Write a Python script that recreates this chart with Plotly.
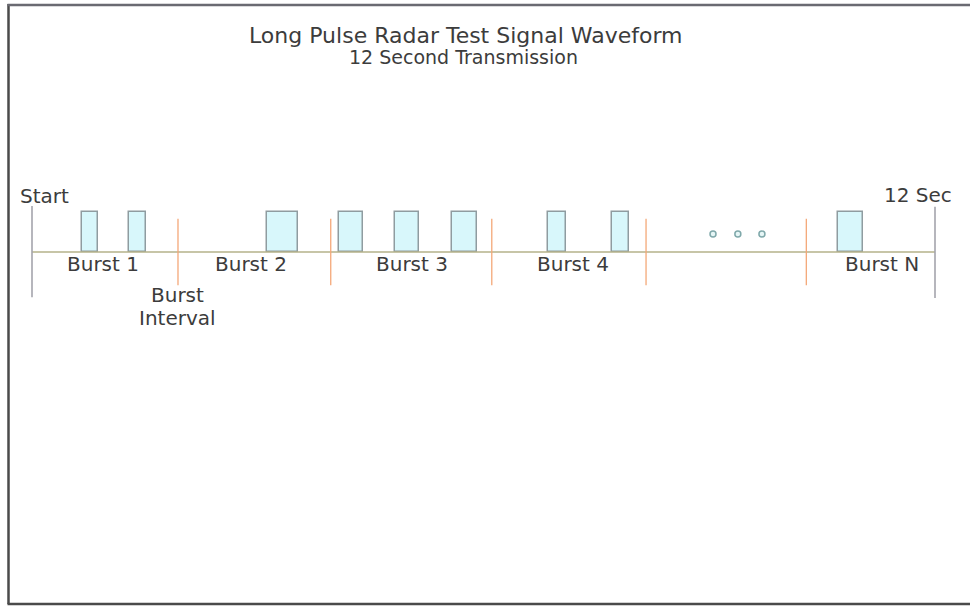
import plotly.graph_objects as go

# ---- data (time in seconds, amplitude in arbitrary units) ----
pulse_start = [0.66, 1.29, 3.12, 4.08, 4.82, 5.58, 6.86, 7.71, 10.71]
pulse_end = [0.88, 1.51, 3.53, 4.40, 5.14, 5.91, 7.10, 7.93, 11.04]
pulse_height = 1.0
separators = [1.94, 3.97, 6.11, 8.16, 10.29]
dots_x = [9.05, 9.38, 9.70]
dots_y = [0.45, 0.45, 0.45]
burst_labels = ["Burst 1", "Burst 2", "Burst 3", "Burst 4", "Burst N"]
burst_label_x = [0.94, 2.91, 5.05, 7.19, 11.30]
total_seconds = 12
title_text = "Long Pulse Radar Test Signal Waveform"
subtitle_text = "12 Second Transmission"

FONT = "DejaVu Sans"
TXT = "#3c3c3c"

fig = go.Figure()

# baseline
fig.add_trace(go.Scatter(x=[0, total_seconds], y=[0, 0], mode="lines",
                         line=dict(color="#b4b28a", width=1.3), hoverinfo="skip"))

# start / end markers
fig.add_trace(go.Scatter(x=[0, 0, None, total_seconds, total_seconds],
                         y=[1.15, -1.13, None, 1.13, -1.15], mode="lines",
                         line=dict(color="#a4a4ac", width=1.6), hoverinfo="skip"))

# burst separators
sx, sy = [], []
for s in separators:
    sx += [s, s, None]
    sy += [0.83, -0.83, None]
fig.add_trace(go.Scatter(x=sx, y=sy, mode="lines",
                         line=dict(color="#f4a878", width=1.3), hoverinfo="skip"))

# pulses
fig.add_trace(go.Bar(x=[(a + b) / 2 for a, b in zip(pulse_start, pulse_end)],
                     y=[pulse_height] * len(pulse_start),
                     width=[b - a for a, b in zip(pulse_start, pulse_end)],
                     marker=dict(color="#d8f7fb", line=dict(color="#8f9ca0", width=1.5)),
                     hoverinfo="skip"))

# continuation dots
fig.add_trace(go.Scatter(x=dots_x, y=dots_y, mode="markers",
                         marker=dict(symbol="circle", size=6, color="#e6f6f6",
                                     line=dict(color="#7fa8aa", width=1.5)),
                         hoverinfo="skip"))

LBL = 20
annotations = []
for lab, lx in zip(burst_labels, burst_label_x):
    annotations.append(dict(x=lx, y=-0.3, text=lab, showarrow=False, xanchor="center",
                            yanchor="middle", font=dict(family=FONT, size=LBL, color=TXT)))
annotations.append(dict(x=separators[0], y=-1.08, text="Burst", showarrow=False,
                        yanchor="middle", font=dict(family=FONT, size=LBL, color=TXT)))
annotations.append(dict(x=separators[0], y=-1.65, text="Interval", showarrow=False,
                        yanchor="middle", font=dict(family=FONT, size=LBL, color=TXT)))
annotations.append(dict(x=0.16, y=1.4, text="Start", showarrow=False, xanchor="center",
                        yanchor="middle", font=dict(family=FONT, size=LBL, color=TXT)))
annotations.append(dict(x=11.77, y=1.42, text="12 Sec", showarrow=False, xanchor="center",
                        yanchor="middle", font=dict(family=FONT, size=LBL, color=TXT)))
annotations.append(dict(x=466 / 970, y=1 - 36 / 607, xref="paper", yref="paper", text=title_text,
                        showarrow=False, xanchor="center", yanchor="middle",
                        font=dict(family=FONT, size=22, color=TXT)))
annotations.append(dict(x=463 / 970, y=1 - 57 / 607, xref="paper", yref="paper", text=subtitle_text,
                        showarrow=False, xanchor="center", yanchor="middle",
                        font=dict(family=FONT, size=19, color=TXT)))

# frame (left, top, bottom)
shapes = [
    dict(type="line", xref="paper", yref="paper", x0=8.5 / 970, x1=8.5 / 970,
         y0=1 - 4 / 607, y1=1 - 604 / 607, line=dict(color="#4a4a4a", width=2.5)),
    dict(type="line", xref="paper", yref="paper", x0=7.5 / 970, x1=1,
         y0=1 - 5 / 607, y1=1 - 5 / 607, line=dict(color="#6a6a72", width=2.5)),
    dict(type="line", xref="paper", yref="paper", x0=7.5 / 970, x1=1,
         y0=1 - 604 / 607, y1=1 - 604 / 607, line=dict(color="#4a4a4a", width=2.5)),
]

px_per_s = 903 / 12
px_per_unit = 40
fig.update_layout(
    width=970, height=607, margin=dict(l=0, r=0, t=0, b=0),
    paper_bgcolor="white", plot_bgcolor="white", showlegend=False,
    annotations=annotations, shapes=shapes, bargap=0,
    xaxis=dict(range=[-32 / px_per_s, (970 - 32) / px_per_s], visible=False, fixedrange=True),
    yaxis=dict(range=[-(607 - 252) / px_per_unit, 252 / px_per_unit], visible=False, fixedrange=True),
)

fig.write_html("out.html", config={"displayModeBar": False},
               post_script="document.body.style.margin='0';document.body.style.overflow='hidden';")
